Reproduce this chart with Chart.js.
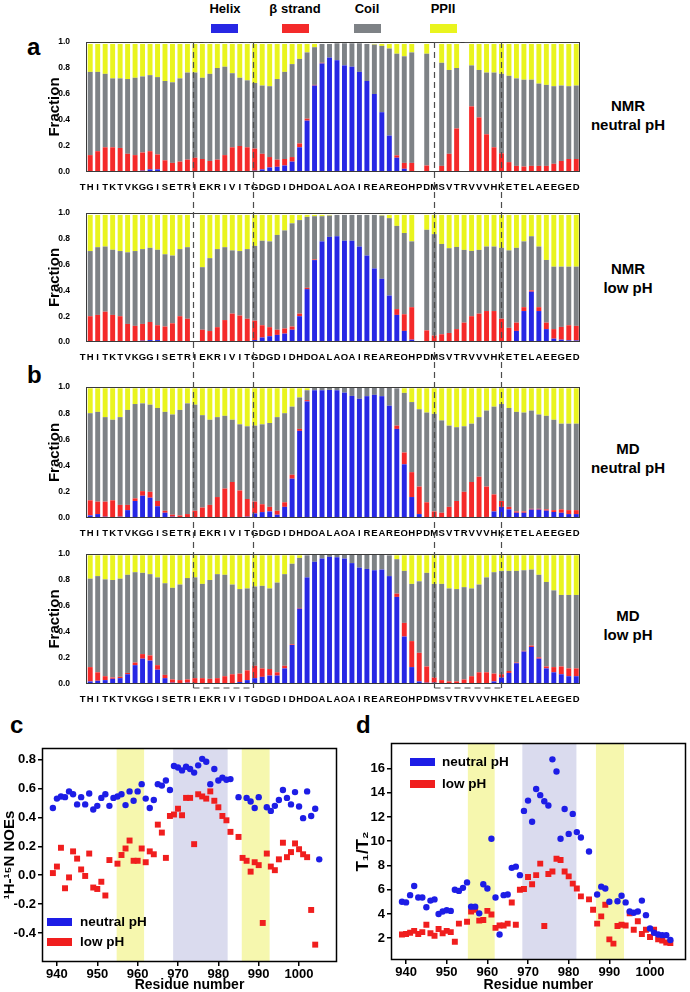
<!DOCTYPE html>
<html><head><meta charset="utf-8">
<script src="https://cdn.jsdelivr.net/npm/chart.js@4.4.1/dist/chart.umd.min.js"></script>
<style>
body{margin:0;background:#fff;}
#page{position:relative;width:690px;height:992px;overflow:hidden;background:#fff;font-family:"Liberation Sans",Arial,sans-serif;font-weight:bold;color:#000;}
#page canvas{position:absolute;}
.t{position:absolute;white-space:nowrap;}
.sw{position:absolute;}
.side{position:absolute;width:130px;text-align:center;font-size:15px;line-height:19px;}
.pl{position:absolute;font-size:24px;line-height:24px;}
</style></head><body>
<div id="page">
  <div class="t" style="left:200px;top:1px;width:50px;text-align:center;font-size:13px;">Helix</div>
  <div class="t" style="left:265px;top:1px;width:60px;text-align:center;font-size:13px;">β strand</div>
  <div class="t" style="left:342px;top:1px;width:50px;text-align:center;font-size:13px;">Coil</div>
  <div class="t" style="left:418px;top:1px;width:50px;text-align:center;font-size:13px;">PPII</div>
  <div class="sw" id="sw0" style="left:211px;top:24px;width:27px;height:9px;"></div>
  <div class="sw" id="sw1" style="left:282px;top:24px;width:27px;height:9px;"></div>
  <div class="sw" id="sw2" style="left:354px;top:24px;width:27px;height:9px;"></div>
  <div class="sw" id="sw3" style="left:430px;top:24px;width:27px;height:9px;"></div>

  <div class="pl" style="left:27px;top:35px;">a</div>
  <div class="pl" style="left:27px;top:363px;">b</div>
  <div class="pl" style="left:10px;top:713px;">c</div>
  <div class="pl" style="left:356px;top:713px;">d</div>

  <div class="side" style="left:563px;top:96px;">NMR<br>neutral pH</div>
  <div class="side" style="left:563px;top:259px;">NMR<br>low pH</div>
  <div class="side" style="left:563px;top:439px;">MD<br>neutral pH</div>
  <div class="side" style="left:563px;top:606px;">MD<br>low pH</div>

  <canvas id="a1" width="590" height="160" style="left:0;top:30px;"></canvas>
  <canvas id="a2" width="590" height="160" style="left:0;top:200px;"></canvas>
  <canvas id="b1" width="590" height="161" style="left:0;top:375px;"></canvas>
  <canvas id="b2" width="590" height="162" style="left:0;top:540px;"></canvas>
  <canvas id="cc" width="345" height="292" style="left:0;top:700px;"></canvas>
  <canvas id="dd" width="345" height="292" style="left:345px;top:700px;"></canvas>
  <canvas id="ov" width="690" height="992" style="left:0;top:0;pointer-events:none;"></canvas>

  <div class="sw" id="lc1" style="left:47px;top:918px;width:25px;height:8px;"></div>
  <div class="t" style="left:80px;top:914px;font-size:13.5px;">neutral pH</div>
  <div class="sw" id="lc2" style="left:47px;top:938px;width:25px;height:8px;"></div>
  <div class="t" style="left:80px;top:934px;font-size:13.5px;">low pH</div>
  <div class="sw" id="ld1" style="left:410px;top:758px;width:25px;height:8px;"></div>
  <div class="t" style="left:442px;top:754px;font-size:13.5px;">neutral pH</div>
  <div class="sw" id="ld2" style="left:410px;top:780px;width:25px;height:8px;"></div>
  <div class="t" style="left:442px;top:776px;font-size:13.5px;">low pH</div>
</div>
<script>
// ---------- categories ----------
const residues = ['T','H','I','T','K','T','V','K','G','G','I','S','E','T','R','I','E','K','R','I','V','I','T','G','D','G','D','I','D','H','D','Q','A','L','A','Q','A','I','R','E','A','R','E','Q','H','P','D','M','S','V','T','R','V','V','V','H','K','E','T','E','L','A','E','E','G','E','D'];
const residueNumbers = [939,940,941,942,943,944,945,946,947,948,949,950,951,952,953,954,955,956,957,958,959,960,961,962,963,964,965,966,967,968,969,970,971,972,973,974,975,976,977,978,979,980,981,982,983,984,985,986,987,988,989,990,991,992,993,994,995,996,997,998,999,1000,1001,1002,1003,1004,1005];
const fractionTicks = [0,0.2,0.4,0.6,0.8,1.0];
const residueTicks = [940,950,960,970,980,990,1000];
const noeTicks = [-0.4,-0.2,0,0.2,0.4,0.6,0.8];
const t1t2Ticks = [2,4,6,8,10,12,14,16];

// ---------- NMR neutral pH ----------
const nmrNeutralHelix = [null,
 0,0,0,0,0,0,0,.01,.02,.02,
 .005,0,0,0,0,0,0,0,0,0,
 0,0,.01,.02,.035,.04,.05,.08,.19,.395,
 .665,.835,.88,.86,.82,.81,.77,.70,.60,.46,
 .28,.11,.025,0,null,0,null,0,0,0,
 null,0,0,0,0,0,0,0,0,0,
 0,0,0,0,0,0];
const nmrNeutralStrand = [null,
 .13,.16,.19,.19,.185,.14,.13,.14,.14,.115,
 .085,.07,.08,.095,.11,.10,.085,.095,.13,.19,
 .20,.19,.17,.12,.08,.055,.05,.035,.03,.015,
 .005,.005,0,0,0,0,0,0,0,0,
 0,.018,.045,.07,null,.05,null,.047,.14,.335,
 null,.505,.42,.29,.19,.144,.076,.047,.042,.047,
 .047,.047,.063,.085,.10,.10];
const nmrNeutralCoil = [null,
 .64,.61,.565,.53,.535,.575,.595,.585,.585,.595,
 .61,.62,.64,.67,.655,.625,.67,.705,.68,.57,
 .525,.515,.505,.525,.545,.62,.67,.715,.65,.51,
 .29,.145,.105,.13,.17,.18,.22,.285,.38,.51,
 .67,.782,.82,.85,null,.86,null,.793,.645,.465,
 null,.315,.365,.475,.575,.611,.664,.673,.668,.663,
 .633,.623,.597,.58,.56,.565];
const nmrNeutralPPII = [null,
 .215,.215,.23,.265,.265,.27,.26,.25,.24,.255,
 .285,.295,.265,.22,.22,.26,.23,.185,.175,.225,
 .26,.28,.30,.32,.325,.27,.215,.155,.115,.065,
 .025,0,0,0,0,0,0,0,.005,.015,
 .035,.075,.095,.065,null,.075,null,.145,.20,.185,
 null,.165,.20,.22,.22,.23,.245,.265,.275,.275,
 .305,.315,.325,.32,.325,.32];

// ---------- NMR low pH ----------
const nmrLowHelix = [null,
 0,0,0,0,0,0,0,.01,.015,.015,
 .005,0,0,0,null,0,0,0,0,0,
 0,0,.015,.035,.045,.055,.065,.095,.20,.41,
 .635,.78,.815,.82,.785,.785,.74,.67,.57,.49,
 .36,.21,.086,.018,null,.005,.005,0,0,0,
 0,0,0,0,0,0,0,.086,.24,.39,
 .24,.10,.026,.018,.013,.012];
const nmrLowStrand = [null,
 .20,.21,.235,.21,.20,.14,.125,.13,.14,.115,
 .115,.145,.20,.18,null,.095,.085,.115,.17,.22,
 .205,.18,.15,.095,.07,.04,.04,.025,.02,.01,
 .005,0,0,0,0,0,0,0,0,0,
 0,.045,.129,.252,null,.085,.045,.06,.07,.10,
 .15,.20,.22,.24,.24,.18,.11,.064,.03,.01,
 .03,.05,.074,.099,.117,.113];
const nmrLowCoil = [null,
 .505,.525,.505,.505,.505,.555,.58,.58,.575,.585,
 .56,.525,.52,.555,null,.485,.565,.605,.565,.49,
 .50,.54,.58,.655,.665,.735,.76,.80,.725,.55,
 .335,.195,.165,.165,.20,.20,.245,.315,.415,.49,
 .60,.645,.63,.51,null,.78,.786,.70,.657,.637,
 .564,.506,.494,.50,.50,.55,.60,.58,.51,.42,
 .47,.486,.484,.467,.454,.459];
const nmrLowPPII = [null,
 .28,.25,.245,.27,.28,.29,.28,.265,.255,.27,
 .305,.315,.265,.25,null,.405,.335,.265,.25,.275,
 .28,.265,.24,.20,.205,.155,.12,.065,.04,.015,
 .01,.01,.005,0,0,0,0,0,0,.005,
 .025,.085,.14,.205,null,.115,.149,.225,.258,.248,
 .271,.279,.271,.245,.245,.255,.275,.255,.205,.165,
 .245,.349,.401,.401,.401,.401];

// ---------- MD neutral pH ----------
const mdNeutralHelix = [null,
 .02,.03,.01,.005,.01,.06,.13,.17,.155,.09,
 .04,.01,.005,.005,.005,0,0,0,0,0,
 0,.01,.035,.045,.05,.025,.085,.30,.665,.89,
 .975,.975,.978,.975,.957,.932,.91,.93,.94,.93,
 .857,.68,.41,.16,.03,0,0,0,0,0,
 0,0,0,.008,.05,.085,.066,.04,.04,.064,
 .064,.056,.046,.04,.03,.03];
const mdNeutralStrand = [null,
 .115,.095,.115,.13,.09,.04,.02,.035,.045,.04,
 .015,.015,.015,.025,.05,.08,.10,.16,.225,.275,
 .21,.135,.09,.06,.035,.03,.035,.03,.015,.01,
 0,0,0,0,0,0,0,0,0,0,
 0,.025,.09,.19,.21,.12,.05,.04,.085,.13,
 .20,.275,.315,.232,.13,.045,.019,.01,.01,.006,
 .006,.01,.014,.026,.03,.03];
const mdNeutralCoil = [null,
 .665,.685,.645,.615,.67,.725,.72,.67,.665,.71,
 .755,.765,.805,.845,.81,.705,.65,.61,.555,.475,
 .505,.555,.58,.61,.64,.715,.68,.52,.24,.075,
 .02,.02,.017,.02,.038,.063,.085,.065,.055,.065,
 .138,.285,.455,.535,.59,.685,.745,.705,.62,.563,
 .50,.445,.455,.58,.67,.74,.755,.76,.755,.75,
 .72,.714,.69,.654,.66,.66];
const mdNeutralPPII = [null,
 .19,.18,.22,.24,.22,.165,.12,.115,.125,.15,
 .18,.20,.165,.115,.125,.205,.24,.22,.21,.24,
 .275,.29,.285,.275,.265,.22,.19,.14,.07,.015,
 0,0,0,0,0,0,0,0,0,0,
 0,0,.035,.105,.16,.185,.195,.245,.285,.297,
 .29,.27,.22,.17,.14,.12,.15,.18,.185,.17,
 .20,.21,.24,.27,.27,.27];

// ---------- MD low pH ----------
const mdLowHelix = [null,
 .02,.025,.03,.04,.045,.075,.145,.195,.18,.11,
 .045,.01,.005,.01,.005,.005,.005,.005,.005,.005,
 .015,.03,.045,.055,.065,.065,.12,.30,.58,.82,
 .94,.965,.978,.975,.965,.93,.895,.885,.875,.88,
 .83,.67,.365,.13,.02,.01,.01,.005,0,0,
 0,0,0,0,.02,.05,.085,.16,.25,.285,
 .195,.12,.09,.075,.06,.06];
const mdLowStrand = [null,
 .11,.065,.03,.01,.01,.01,.02,.035,.04,.035,
 .025,.025,.025,.025,.04,.04,.035,.04,.055,.07,
 .065,.075,.095,.065,.05,.025,.02,.005,.005,0,
 0,0,0,0,0,0,0,0,0,0,
 0,.025,.105,.20,.22,.125,.04,.025,.02,.02,
 .035,.06,.09,.09,.06,.025,.015,.005,.005,.01,
 .01,.015,.04,.06,.06,.06];
const mdLowCoil = [null,
 .68,.74,.745,.75,.755,.755,.695,.625,.625,.675,
 .705,.705,.735,.78,.775,.725,.76,.80,.78,.69,
 .65,.63,.61,.635,.62,.69,.705,.62,.385,.17,
 .055,.03,.017,.02,.03,.065,.10,.11,.12,.115,
 .16,.265,.40,.44,.55,.72,.72,.74,.715,.71,
 .71,.675,.675,.73,.78,.795,.77,.705,.62,.585,
 .635,.65,.59,.55,.565,.565];
const mdLowPPII = [null,
 .18,.16,.185,.19,.18,.15,.13,.135,.145,.17,
 .215,.25,.225,.175,.17,.22,.19,.145,.15,.225,
 .26,.255,.24,.235,.255,.21,.145,.065,.02,0,
 0,0,0,0,0,0,0,0,0,0,
 0,.03,.12,.22,.20,.135,.22,.22,.255,.26,
 .245,.255,.225,.17,.13,.12,.12,.12,.115,.11,
 .15,.205,.27,.305,.305,.305];

// ---------- 1H-15N NOE ----------
const noeNeutral = [.465,.53,.545,.54,.58,.56,.49,.54,.49,.565,
 .455,.48,.535,.56,.48,.535,.545,.56,.485,.58,
 .515,.58,.63,.53,.465,.52,.63,.62,.655,.59,
 .755,.745,.725,.75,.735,.71,.76,.805,.785,.63,
 .735,.655,.675,.66,.665,null,.54,null,.535,.51,
 .465,.54,null,.47,.445,.48,.52,.59,.535,.49,
 .575,.475,.395,.58,.41,.46,.11];
const noeLow = [.015,.06,.19,-.09,-.015,.165,.115,.04,-.005,.15,
 -.085,-.095,-.045,-.14,.105,null,.08,.14,.185,.24,
 .10,.10,.185,.09,.165,.145,.35,.295,.12,.41,
 .42,.46,.415,.535,.535,.215,.56,.545,.53,.58,
 .515,.47,.41,.38,.30,null,.265,.12,.10,.025,
 .09,.07,-.33,.15,.06,.035,.11,.225,.125,.16,
 .22,.18,.145,.125,-.24,-.48,null];

// ---------- T1/T2 ----------
const t1t2Neutral = [5.0,4.95,5.55,6.3,5.35,5.35,4.55,5.1,5.2,4.0,
 4.2,4.3,4.25,6.0,5.9,6.15,6.6,4.6,4.6,4.05,
 6.45,6.1,10.2,5.35,2.3,5.55,5.6,7.8,7.9,7.2,
 12.5,13.35,11.6,14.3,13.8,13.3,12.95,16.75,15.75,10.2,
 12.65,10.6,12.25,10.75,10.3,null,9.15,null,5.6,6.25,
 6.1,5.0,null,5.05,5.5,4.95,4.2,4.1,4.2,5.1,
 3.9,2.8,2.45,2.3,2.25,2.25,1.85];
const t1t2Low = [2.3,2.35,2.45,2.6,2.35,2.5,3.1,2.4,2.2,2.75,
 2.4,2.6,2.5,1.7,3.2,null,3.35,4.2,4.35,3.45,
 3.5,4.25,3.95,2.85,3.05,3.05,3.2,4.95,3.1,6.0,
 6.05,7.05,6.45,7.2,8.15,3.0,7.3,7.5,8.55,8.45,
 7.5,7.1,6.5,6.1,5.45,null,5.2,4.35,3.2,3.8,
 4.75,1.9,1.55,3.0,3.1,3.05,4.05,2.7,3.4,2.35,
 2.7,2.1,2.7,1.9,1.8,1.65,1.6];

// ---------- shaded residue ranges ----------
const bandsC = [[954.8,961.6,'#f6f7ae'],[968.8,982.3,'#dadbee'],[985.8,992.7,'#f6f7ae']];
const bandsD = [[955.2,961.8,'#f6f7ae'],[968.6,981.9,'#dadbee'],[986.7,993.6,'#f6f7ae']];
const dividers = [14.7,22.8,46.95,56.0];

// ---------- styles ----------
const C_HELIX = '#2727e4', C_STRAND = '#f42a2a', C_COIL = '#7e8286', C_PPII = '#e9f41e';
const C_BLUE = '#1d1de6', C_RED = '#f01e1e';
const FONT = "'Liberation Sans', Arial, sans-serif";
Chart.defaults.font.family = FONT;
Chart.defaults.font.weight = 'bold';
Chart.defaults.color = '#000';

[['sw0',C_HELIX],['sw1',C_STRAND],['sw2',C_COIL],['sw3',C_PPII],['lc1',C_BLUE],['lc2',C_RED],['ld1',C_BLUE],['ld2',C_RED]]
  .forEach(([id,c]) => document.getElementById(id).style.background = c);

const frameBox = {
  id: 'frameBox',
  afterDatasetsDraw(chart, args, opts) {
    const {ctx, chartArea: a, scales} = chart;
    let left = a.left;
    if (opts.skipFirst) left = (scales.x.getPixelForValue(0) + scales.x.getPixelForValue(1)) / 2;
    ctx.save();
    ctx.strokeStyle = opts.color || '#333';
    ctx.lineWidth = opts.width || 1;
    const off = (ctx.lineWidth % 2) ? 0.5 : 0;
    ctx.strokeRect(Math.round(left) + off, Math.round(a.top) + off, Math.round(a.right - left) - 2*off, Math.round(a.bottom - a.top) - 2*off);
    ctx.restore();
  }
};
const bandsPlugin = {
  id: 'bands',
  beforeDatasetsDraw(chart, args, opts) {
    const {ctx, chartArea: a, scales: {x}} = chart;
    ctx.save();
    (opts.list || []).forEach(([x0, x1, col]) => {
      const p0 = x.getPixelForValue(x0), p1 = x.getPixelForValue(x1);
      ctx.fillStyle = col;
      ctx.fillRect(p0, a.top, p1 - p0, a.bottom - a.top);
    });
    ctx.restore();
  }
};

function makeBars(id, helix, strand, coil, ppii, padTop) {
  return new Chart(document.getElementById(id), {
    type: 'bar',
    data: {
      labels: residues,
      datasets: [
        {label: 'Helix', data: helix, backgroundColor: C_HELIX},
        {label: 'β strand', data: strand, backgroundColor: C_STRAND},
        {label: 'Coil', data: coil, backgroundColor: C_COIL},
        {label: 'PPII', data: ppii, backgroundColor: C_PPII}
      ]
    },
    options: {
      responsive: false, animation: false, devicePixelRatio: 1,
      layout: {padding: {top: padTop, right: 10, left: 0, bottom: 0}},
      datasets: {bar: {barPercentage: 0.66, categoryPercentage: 1, borderWidth: 0}},
      plugins: {legend: {display: false}, tooltip: {enabled: false}, frameBox: {skipFirst: true, color: '#3a3a3a', width: 1}},
      scales: {
        x: {
          stacked: true, grid: {display: false}, border: {display: false},
          ticks: {autoSkip: false, maxRotation: 0, minRotation: 0, padding: 2, font: {size: 9.5, weight: 'bold'}},
          afterFit: s => { s.height = 18; }
        },
        y: {
          stacked: true, min: 0, max: 1, grid: {display: false}, border: {display: false},
          afterBuildTicks: s => { s.ticks = fractionTicks.map(v => ({value: v})); },
          ticks: {padding: 1, font: {size: 8.5, weight: 'bold'}, callback: v => Number(v).toFixed(1)},
          title: {display: true, text: 'Fraction', font: {size: 15, weight: 'bold', lineHeight: 1.2}, padding: {top: 46, bottom: 0}},
          afterFit: s => { s.width = 79; }
        }
      }
    },
    plugins: [frameBox]
  });
}

const chA1 = makeBars('a1', nmrNeutralHelix, nmrNeutralStrand, nmrNeutralCoil, nmrNeutralPPII, 12);
const chA2 = makeBars('a2', nmrLowHelix, nmrLowStrand, nmrLowCoil, nmrLowPPII, 13);
const chB1 = makeBars('b1', mdNeutralHelix, mdNeutralStrand, mdNeutralCoil, mdNeutralPPII, 12);
const chB2 = makeBars('b2', mdLowHelix, mdLowStrand, mdLowCoil, mdLowPPII, 14);

function pts(vals) {
  const out = [];
  vals.forEach((v, i) => { if (v !== null) out.push({x: residueNumbers[i], y: v}); });
  return out;
}

function makeScatter(id, cfg) {
  return new Chart(document.getElementById(id), {
    type: 'scatter',
    data: {
      datasets: [
        {label: 'neutral pH', data: pts(cfg.neutral), pointStyle: 'circle', pointRadius: 3.2, backgroundColor: C_BLUE, borderWidth: 0},
        {label: 'low pH', data: pts(cfg.low), pointStyle: 'rect', pointRadius: 4.2, backgroundColor: C_RED, borderWidth: 0}
      ]
    },
    options: {
      responsive: false, animation: false, devicePixelRatio: 1,
      layout: {padding: cfg.pad},
      plugins: {legend: {display: false}, tooltip: {enabled: false}, bands: {list: cfg.bands}, frameBox: {color: '#000', width: 1.5}},
      scales: {
        x: {
          type: 'linear', min: cfg.xmin, max: cfg.xmax,
          border: {display: false},
          grid: {drawOnChartArea: false, drawTicks: true, tickLength: 4, color: '#000', lineWidth: 1.5},
          afterBuildTicks: s => { s.ticks = residueTicks.map(v => ({value: v})); },
          ticks: {padding: 1, font: {size: 13, weight: 'bold'}, callback: v => String(v)},
          title: {display: true, text: 'Residue number', font: {size: 14, weight: 'bold', lineHeight: 1}, padding: {top: 0, bottom: 0}},
          afterFit: s => { s.height = cfg.xh; }
        },
        y: {
          type: 'linear', min: cfg.ymin, max: cfg.ymax,
          border: {display: false},
          grid: {drawOnChartArea: false, drawTicks: true, tickLength: 4, color: '#000', lineWidth: 1.5},
          afterBuildTicks: s => { s.ticks = cfg.yticks.map(v => ({value: v})); },
          ticks: {padding: 2, font: {size: 13, weight: 'bold'}, callback: cfg.yfmt},
          title: {display: true, text: cfg.ytitle, font: {size: cfg.ytsize, weight: 'bold', lineHeight: 1.2}, padding: {top: cfg.ytpad, bottom: 0}},
          afterFit: s => { s.width = cfg.yw; }
        }
      }
    },
    plugins: [bandsPlugin, frameBox]
  });
}

makeScatter('cc', {
  neutral: noeNeutral, low: noeLow, bands: bandsC,
  pad: {top: 48, right: 8, left: 0, bottom: 0},
  xmin: 936.3, xmax: 1009.4, xh: 30,
  ymin: -0.6, ymax: 0.88, yticks: noeTicks, yfmt: v => Number(v).toFixed(1),
  ytitle: '¹H-¹⁵N NOEs', ytsize: 15, ytpad: 1, yw: 42
});
makeScatter('dd', {
  neutral: t1t2Neutral, low: t1t2Low, bands: bandsD,
  pad: {top: 43, right: 2, left: 0, bottom: 0},
  xmin: 936.3, xmax: 1008.8, xh: 32,
  ymin: 0.2, ymax: 18.1, yticks: t1t2Ticks, yfmt: v => String(v),
  ytitle: 'T₁/T₂', ytsize: 17, ytpad: 8, yw: 46
});

// ---------- dashed guide boxes across panels a/b ----------
(function drawGuides() {
  const ov = document.getElementById('ov');
  const g = ov.getContext('2d');
  const a1Top = document.getElementById('a1').offsetTop;
  const b2Top = document.getElementById('b2').offsetTop;
  const xs = chA1.scales.x;
  const top = a1Top + chA1.chartArea.top;
  const bottom = b2Top + chB2.chartArea.bottom + 4;
  const px = dividers.map(v => Math.round(xs.getPixelForValue(v)) + 0.5);
  g.save();
  g.strokeStyle = '#4d4d4d';
  g.lineWidth = 1.2;
  g.setLineDash([6, 4]);
  px.forEach(x => { g.beginPath(); g.moveTo(x, top); g.lineTo(x, bottom); g.stroke(); });
  [[0, 1], [2, 3]].forEach(([i, j]) => {
    g.beginPath(); g.moveTo(px[i], top + 0.5); g.lineTo(px[j], top + 0.5); g.stroke();
    g.beginPath(); g.moveTo(px[i], bottom); g.lineTo(px[j], bottom); g.stroke();
  });
  g.restore();
})();
</script>
</body></html>
